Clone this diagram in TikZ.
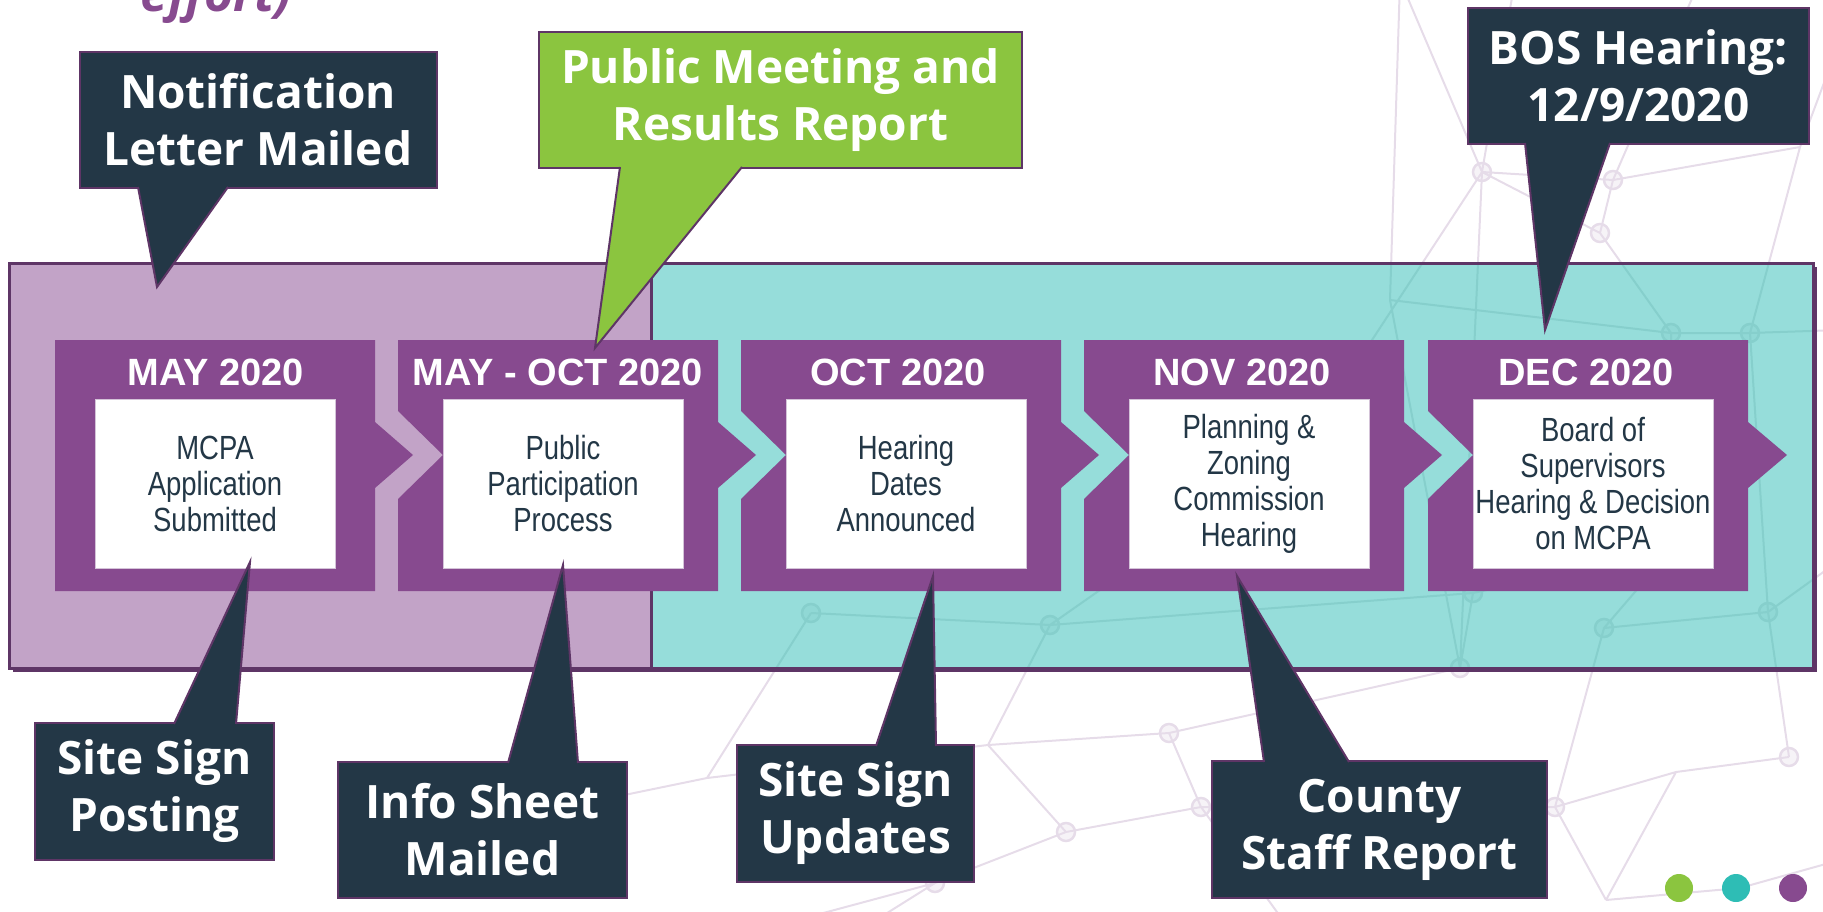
\documentclass[tikz,border=0pt]{standalone}
\usepackage{fontspec}
\setmainfont{Liberation Sans}
\newfontfamily\calloutfont{Open Sans}
\newfontfamily\narrowfont{Liberation Sans}[FakeStretch=0.82]
\usepackage{tikz}
\usetikzlibrary{calc}
\definecolor{Slate}{HTML}{233746}
\definecolor{Plum}{HTML}{874A8F}
\definecolor{PlumDark}{HTML}{5E3566}
\definecolor{Lilac}{HTML}{C2A3C7}
\definecolor{Aqua}{HTML}{96DDDA}
\definecolor{Leaf}{HTML}{8BC53F}
\definecolor{AquaDot}{HTML}{2EBDB5}
\definecolor{Web}{HTML}{E6DCE9}
\definecolor{WebAqua}{HTML}{86CFCC}
\definecolor{Frame}{HTML}{D4C3D8}
\tikzset{
  callout/.style={draw=PlumDark,line width=2pt,fill=Slate,text=white,align=center,inner sep=0pt,font=\calloutfont\bfseries\fontsize{46}{57}\selectfont},
  tail/.style={draw=PlumDark,line width=2pt,fill=Slate},
  stage/.style={draw=Frame,line width=1pt,fill=white,text=Slate,minimum width=240pt,minimum height=169pt,inner sep=0pt,align=center,font=\narrowfont\fontsize{33.5}{36}\selectfont},
  datelabel/.style={anchor=base,text=white,inner sep=0pt,font=\bfseries\fontsize{38}{40}\selectfont},
  chevron/.style={fill=Plum},
  panel/.style={draw=PlumDark,line width=3pt},
  dot/.style={circle,minimum size=28pt,inner sep=0pt}
}
% faint network behind the timeline
\newcommand{\bgnetwork}[1]{%
  \draw[#1,line width=2pt,line join=round]
    (o1) -- (w1) (o9) -- (w1) (w1) -- (w2) (w1) -- (w3) (w2) -- (w3) (w2) -- (w4)
    (o2) -- (w2) (w4) -- (o3) (w4) -- (w6) (w3) -- (w5) (w5) -- (w6) (w5) -- (w7)
    (w6) -- (w12) (w6) -- (o4) (w1) -- (w13) (w1) -- (w25) (w25) -- (w9)
    (w7) -- (w11) (w7) -- (w10) (w10) -- (w9) (w9) -- (w8) (w8) -- (w14)
    (w9) -- (w15) (w10) -- (w13) (w11) -- (w12) (w12) -- (o11) (w13) -- (w16)
    (w14) -- (o5) (w14) -- (w15) (w15) -- (w16) (w16) -- (w17) (w15) -- (w18)
    (w17) -- (w18) (w18) -- (w19) (w19) -- (o6) (w19) -- (o10) (w17) -- (w20)
    (w20) -- (w11) (w20) -- (w23) (w23) -- (w21) (w21) -- (w12) (w23) -- (w22)
    (w22) -- (w24) (w20) -- (w22) (w24) -- (o8) (w17) -- (o7) (w26) -- (w5)
    (w26) -- (w13) (o9) -- (w26);
  \draw[#1,line width=2.5pt,fill=#1,fill opacity=.35]
    (w1) circle[radius=9] (w2) circle[radius=9] (w3) circle[radius=9]
    (w5) circle[radius=9] (w6) circle[radius=9] (w7) circle[radius=9]
    (w8) circle[radius=9] (w9) circle[radius=9] (w10) circle[radius=9]
    (w11) circle[radius=9] (w12) circle[radius=9] (w13) circle[radius=9]
    (w16) circle[radius=9] (w17) circle[radius=9] (w18) circle[radius=9]
    (w19) circle[radius=9] (w20) circle[radius=9] (w21) circle[radius=9]
    (w24) circle[radius=9];
}

\begin{document}
\begin{tikzpicture}[x=1pt,y=-1pt]
  \useasboundingbox (0,0) rectangle (1823,912);
  \coordinate (w1) at (1482,172);  \coordinate (w2) at (1613,180);
  \coordinate (w3) at (1600,233);  \coordinate (w4) at (1800,147);
  \coordinate (w5) at (1671,333);  \coordinate (w6) at (1750,333);
  \coordinate (w7) at (1671,550);  \coordinate (w8) at (811,613);
  \coordinate (w9) at (1050,625);  \coordinate (w10) at (1473,593);
  \coordinate (w11) at (1604,628); \coordinate (w12) at (1768,612);
  \coordinate (w13) at (1460,668); \coordinate (w14) at (707,778);
  \coordinate (w15) at (988,745);  \coordinate (w16) at (1169,733);
  \coordinate (w17) at (1201,807); \coordinate (w18) at (1066,832);
  \coordinate (w19) at (935,883);  \coordinate (w20) at (1555,807);
  \coordinate (w21) at (1789,757); \coordinate (w22) at (1606,900);
  \coordinate (w23) at (1676,772); \coordinate (w24) at (1740,888);
  \coordinate (w25) at (1300,450); \coordinate (w26) at (1390,300);
  \coordinate (o1) at (1515,-20);  \coordinate (o2) at (1700,-20);
  \coordinate (o3) at (1840,40);   \coordinate (o4) at (1840,330);
  \coordinate (o5) at (600,800);   \coordinate (o6) at (860,930);
  \coordinate (o7) at (1290,930);  \coordinate (o8) at (1840,860);
  \coordinate (o9) at (1400,-20);  \coordinate (o10) at (760,930);
  \coordinate (o11) at (1840,560);
  \bgnetwork{Web}

  \node[anchor=base east,inner sep=0pt,text=Plum,font=\calloutfont\bfseries\itshape\fontsize{50}{50}\selectfont] (title) at (292,12) {effort)};

  % panels
  \fill[PlumDark] (13,267) rectangle (1817,672);
  \fill[Lilac] (9,263) rectangle (651,668);
  \fill[Aqua] (651,263) rectangle (1813,668);
  \begin{scope}
    \clip (651,263) rectangle (1813,668);
    \bgnetwork{WebAqua}
  \end{scope}
  \draw[panel] (9,263) rectangle (1813,668);
  \draw[panel] (651,263) -- (651,668);

  % chevrons
  \fill[chevron] (55,340) -- (375,340) -- (375,422) -- (413,455) -- (375,488) -- (375,591) -- (55,591) -- cycle;
  \fill[chevron] (398,340) -- (718,340) -- (718,422) -- (756,455) -- (718,488) -- (718,591) -- (398,591) -- (398,499) -- (443,455) -- (398,411) -- cycle;
  \fill[chevron] (741,340) -- (1061,340) -- (1061,422) -- (1099,455) -- (1061,488) -- (1061,591) -- (741,591) -- (741,499) -- (786,455) -- (741,411) -- cycle;
  \fill[chevron] (1084,340) -- (1404,340) -- (1404,422) -- (1442,455) -- (1404,488) -- (1404,591) -- (1084,591) -- (1084,499) -- (1129,455) -- (1084,411) -- cycle;
  \fill[chevron] (1428,340) -- (1748,340) -- (1748,422) -- (1787,455) -- (1748,488) -- (1748,591) -- (1428,591) -- (1428,499) -- (1473,455) -- (1428,411) -- cycle;

  \node[datelabel] (may) at (216,385) {MAY 2020};
  \node[datelabel] (mayoct) at (558,385) {MAY - OCT 2020};
  \node[datelabel] (oct) at (898,385) {OCT 2020};
  \node[datelabel] (nov) at (1242,385) {NOV 2020};
  \node[datelabel] (dec) at (1586,385) {DEC 2020};

  \node[stage] (submit) at (215,483.5) {MCPA\\Application\\Submitted};
  \node[stage] (particip) at (563,483.5) {Public\\Participation\\Process};
  \node[stage] (dates) at (906,483.5) {Hearing\\Dates\\Announced};
  \node[stage] (pzc) at (1249,483.5) {Planning \&\\Zoning\\Commission\\Hearing};
  \node[stage] (bos) at (1593,483.5) {Board of\\Supervisors\\Hearing \& Decision\\on MCPA};

  % callouts above
  \node[callout,minimum width=357pt,minimum height=136pt] (letter) at (258,120) {Notification\\Letter Mailed};
  \coordinate (lettertip) at (157,287);
  \draw[tail] ($(138,0 |- letter.south)+(0,-2)$) -- (lettertip) -- ($(228,0 |- letter.south)+(0,-2)$);

  \node[callout,fill=Leaf,minimum width=483pt,minimum height=136pt] (meeting) at (780.5,100) {Public Meeting and\\Results Report};
  \coordinate (meetingtip) at (595,348);
  \draw[tail,fill=Leaf] ($(620,0 |- meeting.south)+(0,-2)$) -- (meetingtip) -- ($(742,0 |- meeting.south)+(0,-2)$);

  \node[callout,minimum width=341pt,minimum height=136pt] (boshear) at (1638.5,76) {BOS Hearing:\\12/9/2020};
  \coordinate (boshtip) at (1545,330);
  \draw[tail] ($(1525,0 |- boshear.south)+(0,-2)$) -- (boshtip) -- ($(1610,0 |- boshear.south)+(0,-2)$);

  % callouts below
  \node[callout,minimum width=239pt,minimum height=137pt] (signpost) at (154.5,791.5) {Site Sign\\Posting};
  \coordinate (signposttip) at (250,562);
  \draw[tail] ($(174,0 |- signpost.north)+(0,2)$) -- (signposttip) -- ($(236,0 |- signpost.north)+(0,2)$);

  \node[callout,minimum width=289pt,minimum height=136pt] (infosheet) at (482.5,830) {Info Sheet\\Mailed};
  \coordinate (infotip) at (563,565);
  \draw[tail] ($(508,0 |- infosheet.north)+(0,2)$) -- (infotip) -- ($(578,0 |- infosheet.north)+(0,2)$);

  \node[callout,minimum width=237pt,minimum height=137pt] (signupd) at (855.5,813.5) {Site Sign\\Updates};
  \coordinate (signupdtip) at (933,576);
  \draw[tail] ($(876,0 |- signupd.north)+(0,2)$) -- (signupdtip) -- ($(936,0 |- signupd.north)+(0,2)$);

  \node[callout,minimum width=335pt,minimum height=137pt] (staff) at (1379.5,829.5) {County\\Staff Report};
  \coordinate (stafftip) at (1237,576);
  \draw[tail] ($(1264,0 |- staff.north)+(0,2)$) -- (stafftip) -- ($(1349,0 |- staff.north)+(0,2)$);

  % corner dots
  \node[dot,fill=Leaf] (dotgreen) at (1679,888) {};
  \node[dot,fill=AquaDot] (dotaqua) at (1736,888) {};
  \node[dot,fill=Plum] (dotplum) at (1793,888) {};
\end{tikzpicture}
\end{document}
